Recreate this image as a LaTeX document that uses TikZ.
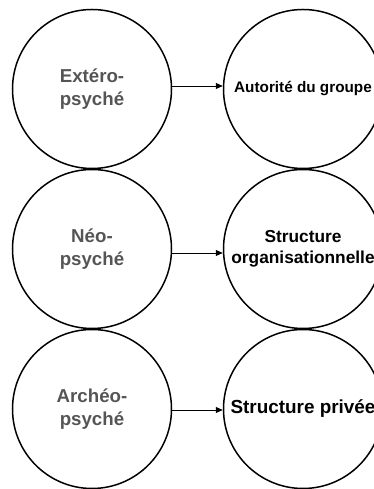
\documentclass[tikz,border=0pt]{standalone}
\usepackage{fontspec}
\setmainfont{Liberation Sans}
\usetikzlibrary{arrows.meta}
\definecolor{psygray}{HTML}{555555}
\tikzset{
  ring/.style={circle, draw=black, line width=1.5pt, minimum size=159pt, inner sep=0pt, align=center, font=\bfseries},
  lefttext/.style={text=psygray, font=\bfseries\fontsize{18.7pt}{23pt}\selectfont},
  link/.style={line width=0.8pt, -{Triangle[length=7pt,width=6pt]}}
}
\begin{document}
\begin{tikzpicture}[x=1pt,y=1pt]
\useasboundingbox (0,0) rectangle (374,489);
\node[ring, lefttext] (l1) at (92,400) {Extéro-\\psyché};
\node[ring, lefttext] (l2) at (92,240) {Néo-\\psyché};
\node[ring, lefttext] (l3) at (92,80) {Archéo-\\psyché};
\node[ring, font=\bfseries\fontsize{15.3pt}{18pt}\selectfont] (r1) at (303,400) {Autorité du groupe};
\node[ring, font=\bfseries\fontsize{17.3pt}{21pt}\selectfont] (r2) at (303,240) {Structure\\organisationnelle};
\node[ring, font=\bfseries\fontsize{18.9pt}{22pt}\selectfont] (r3) at (303,80) {Structure privée};
\draw[link] ([yshift=3pt]l1.east) -- ([yshift=3pt]r1.west);
\draw[link] ([yshift=-4pt]l2.east) -- ([yshift=-4pt]r2.west);
\draw[link] ([yshift=-1pt]l3.east) -- ([yshift=-1pt]r3.west);
\end{tikzpicture}
\end{document}
